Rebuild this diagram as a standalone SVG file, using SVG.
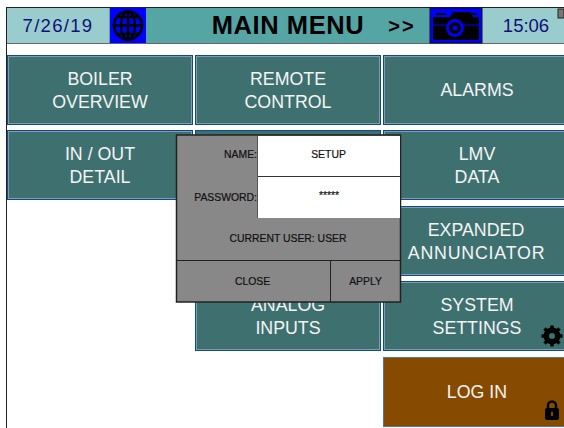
<svg xmlns="http://www.w3.org/2000/svg" width="564" height="428" viewBox="0 0 564 428">
<style>
.b{fill:#3f7070;stroke:#0f4c85;stroke-width:1}
.h{fill:none;stroke:#7f9cb0;stroke-width:1}
.t{font-family:"Liberation Sans",Arial,sans-serif;font-size:17.8px;fill:#f4f4f4;text-anchor:middle}
.d{font-family:"Liberation Sans",Arial,sans-serif;font-size:18.500px;fill:#10107a;text-anchor:middle}
.s{font-family:"Liberation Sans",Arial,sans-serif;font-size:10.400px;fill:#111;stroke:#111;stroke-width:.2;text-anchor:middle}
.r{text-anchor:end}
.e{fill:#888;stroke:#222;stroke-width:1.500}
</style>
<rect width="564" height="428" fill="#fff"/>
<path d="M6.500 7V428" stroke="#222" fill="none"/>
<g id="header">
<rect x="7" y="8" width="557" height="35" fill="#55a5a5"/>
<path d="M6 7.500H564" stroke="#222" fill="none"/>
<path d="M7 43.500H564" stroke="#666" fill="none"/>
<rect x="7" y="8" width="102" height="35" fill="#99cccc"/>
<rect x="482" y="8" width="82" height="35" fill="#99cccc"/>
<text class="d" x="58" y="31.500" letter-spacing="1.300">7/26/19</text>
<text class="d" x="526" y="31.500">15:06</text>
<text x="288" y="34" font-family="Liberation Sans,Arial,sans-serif" font-size="25.500" font-weight="700" letter-spacing=".6" fill="#000" text-anchor="middle">MAIN MENU</text>
<text x="402" y="33" font-family="Liberation Sans,Arial,sans-serif" font-size="20" font-weight="700" letter-spacing="2" fill="#000" text-anchor="middle">&gt;&gt;</text>
<rect x="558" y="9" width="6" height="9" fill="#777" stroke="#222" stroke-width="1"/>
</g>
<g id="globe-button">
<rect x="110" y="8" width="36" height="35" fill="#0000ff"/>
<g fill="none" stroke="#000" stroke-width="2.600">
<circle cx="128" cy="25.500" r="14"/>
<ellipse cx="128" cy="25.500" rx="7" ry="14"/>
<path d="M128 12V39M114 25.500H142M117 17H139M117 34H139"/>
</g>
</g>
<g id="camera-button">
<rect x="430" y="8" width="52" height="35" fill="#0000ff" stroke="#111" stroke-width="1"/>
<path d="M433 17H450L453 12H470L473 17H479V40H433Z" fill="#000"/>
<path d="M436 13H446V15H436ZM467 13H477V15H467Z" fill="#000"/>
<circle cx="455" cy="28" r="9" fill="#0000ff"/>
<circle cx="455" cy="28" r="6" fill="#000"/>
<circle cx="455" cy="28" r="2.500" fill="#0000ff"/>
<path d="M433 25H446M464 25H479" stroke="#0000ff" stroke-width="1"/>
</g>
<g id="boiler-overview"><rect class="b" x="7.500" y="55.500" width="185" height="69"/><rect class="h" x="8.500" y="56.500" width="183" height="67"/><text class="t" x="100" y="85">BOILER</text><text class="t" x="100" y="108">OVERVIEW</text></g>
<g id="remote-control"><rect class="b" x="195.500" y="55.500" width="185" height="69"/><rect class="h" x="196.500" y="56.500" width="183" height="67"/><text class="t" x="288" y="85">REMOTE</text><text class="t" x="288" y="108">CONTROL</text></g>
<g id="alarms"><rect class="b" x="383.500" y="55.500" width="185" height="69"/><rect class="h" x="384.500" y="56.500" width="183" height="67"/><text class="t" x="477" y="96">ALARMS</text></g>
<g id="in-out-detail"><rect class="b" x="7.500" y="130.500" width="185" height="69"/><rect class="h" x="8.500" y="131.500" width="183" height="67"/><text class="t" x="100" y="160">IN / OUT</text><text class="t" x="100" y="183">DETAIL</text></g>
<g id="hidden-button"><rect class="b" x="195.500" y="130.500" width="185" height="69"/></g>
<g id="lmv-data"><rect class="b" x="383.500" y="130.500" width="185" height="69"/><rect class="h" x="384.500" y="131.500" width="183" height="67"/><text class="t" x="477" y="160">LMV</text><text class="t" x="477" y="183">DATA</text></g>
<g id="expanded-annunciator"><rect class="b" x="383.500" y="206.500" width="185" height="69"/><rect class="h" x="384.500" y="207.500" width="183" height="67"/><text class="t" x="476" y="236">EXPANDED</text><text class="t" x="476.500" y="259" letter-spacing=".8">ANNUNCIATOR</text></g>
<g id="analog-inputs"><rect class="b" x="195.500" y="281.500" width="185" height="69"/><rect class="h" x="196.500" y="282.500" width="183" height="67"/><text class="t" x="288" y="311">ANALOG</text><text class="t" x="288" y="334">INPUTS</text></g>
<g id="system-settings"><rect class="b" x="383.500" y="281.500" width="185" height="69"/><rect class="h" x="384.500" y="282.500" width="183" height="67"/><text class="t" x="477" y="311">SYSTEM</text><text class="t" x="477" y="334">SETTINGS</text>
<circle cx="552" cy="336" r="6.500" fill="none" stroke="#000" stroke-width="4"/>
<path d="M552 325.500V346.500M541.500 336H562.500M544.600 328.600L559.400 343.400M559.400 328.600L544.600 343.400" stroke="#000" stroke-width="3.500"/>
<circle cx="552" cy="336" r="3" fill="#3f7070"/>
</g>
<g id="log-in"><rect x="383.500" y="357.500" width="185" height="69" fill="#874b00" stroke="#4f76a8"/><text class="t" x="477" y="398">LOG IN</text>
<path d="M548 408V405.500A4 4 0 0 1 556 405.500V408" fill="none" stroke="#000" stroke-width="2.500"/>
<rect x="545" y="408" width="14" height="12" rx="2" fill="#000"/>
<rect x="551" y="412" width="2" height="4" fill="#874b00"/>
</g>
<g id="login-dialog">
<rect class="e" x="176.500" y="135" width="224" height="167"/>
<rect x="258" y="136" width="142" height="82" fill="#fff"/>
<path d="M258 176.500H400" stroke="#333" fill="none"/>
<path d="M257.500 136V218" stroke="#555" fill="none"/>
<path d="M177 260.500H400M330.500 261V302" stroke="#222" fill="none"/>
<text class="s r" x="257" y="158">NAME:</text>
<text class="s r" x="257" y="201">PASSWORD:</text>
<text class="s" x="328.500" y="158">SETUP</text>
<text class="s" x="329" y="199">*****</text>
<text class="s" x="288" y="242">CURRENT USER: USER</text>
<text class="s" x="252.500" y="285">CLOSE</text>
<text class="s" x="365.500" y="285">APPLY</text>
</g>
</svg>
